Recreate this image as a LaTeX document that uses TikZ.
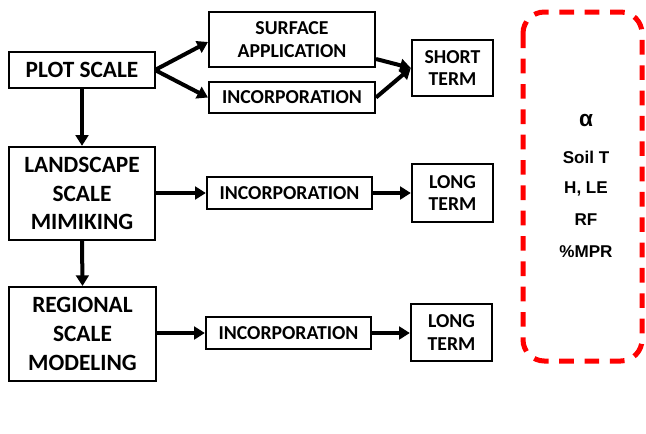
\documentclass[tikz,border=0pt]{standalone}
\usepackage{fontspec}
\setmainfont{Carlito}
\newfontfamily\arialf{Liberation Sans}
\usetikzlibrary{arrows.meta}
\begin{document}
\begin{tikzpicture}[x=0.75pt,y=-0.75pt,
  box/.style={draw,line width=1.5pt,inner sep=0pt,align=center,font=\bfseries\fontsize{14.8}{17.2}\selectfont},
  bigbox/.style={box,font=\bfseries\fontsize{17.5}{21.5}\selectfont},
  arr/.style={line width=3pt,-{Triangle[length=8pt,width=9.5pt]}},
  side/.style={font=\arialf\bfseries\fontsize{12.8}{14}\selectfont}]
\useasboundingbox (0,0) rectangle (646,433);
\node[bigbox,minimum width=109.5pt,minimum height=27pt] (plot) at (82,70) {PLOT SCALE};
\node[box,minimum width=124.5pt,minimum height=41pt] (surf) at (292,39.5) {SURFACE\\APPLICATION};
\node[box,minimum width=124.5pt,minimum height=23.5pt] (inc1) at (292,97.5) {INCORPORATION};
\node[box,minimum width=61pt,minimum height=42pt] (short) at (452.5,68) {SHORT\\TERM};
\node[bigbox,minimum width=109.5pt,minimum height=70pt] (land) at (82,193.5) {LANDSCAPE\\SCALE\\MIMIKING};
\node[box,minimum width=124pt,minimum height=24pt] (inc2) at (289.5,193) {INCORPORATION};
\node[box,minimum width=61pt,minimum height=43.5pt] (long1) at (452.5,193) {LONG\\TERM};
\node[bigbox,minimum width=110pt,minimum height=70.5pt] (reg) at (82.5,334) {REGIONAL\\SCALE\\MODELING};
\node[box,minimum width=124pt,minimum height=24pt] (inc3) at (288.5,333) {INCORPORATION};
\node[box,minimum width=61pt,minimum height=43pt] (long2) at (451.5,332.5) {LONG\\TERM};
\draw[red,line width=3.75pt,dash pattern=on 11pt off 8pt,rounded corners=16pt] (523,12) rectangle (642,361);
\node[font=\arialf\bfseries\fontsize{17}{17}\selectfont] (alpha) at (586,121) {α};
\node[side] (soil) at (586,157) {Soil T};
\node[side] (hle) at (586,189) {H, LE};
\node[side] (rf) at (586,220) {RF};
\node[side] (mpr) at (586,252) {\%MPR};
\coordinate (pe) at (155,70);
\draw[arr] (pe) -- (surf.west|-0,42);
\draw[arr] (pe) -- (inc1.west);
\draw[arr] (surf.east|-0,59) -- (short.west);
\draw[arr] (inc1.east) -- (short.west);
\draw[arr] (plot.south) -- (land.north);
\draw[arr] (land.south) -- (reg.north);
\draw[arr] (land.east|-inc2) -- (inc2.west);
\draw[arr] (inc2.east) -- (long1.west|-inc2);
\draw[arr] (reg.east|-inc3) -- (inc3.west);
\draw[arr] (inc3.east) -- (long2.west|-inc3);
\end{tikzpicture}
\end{document}
